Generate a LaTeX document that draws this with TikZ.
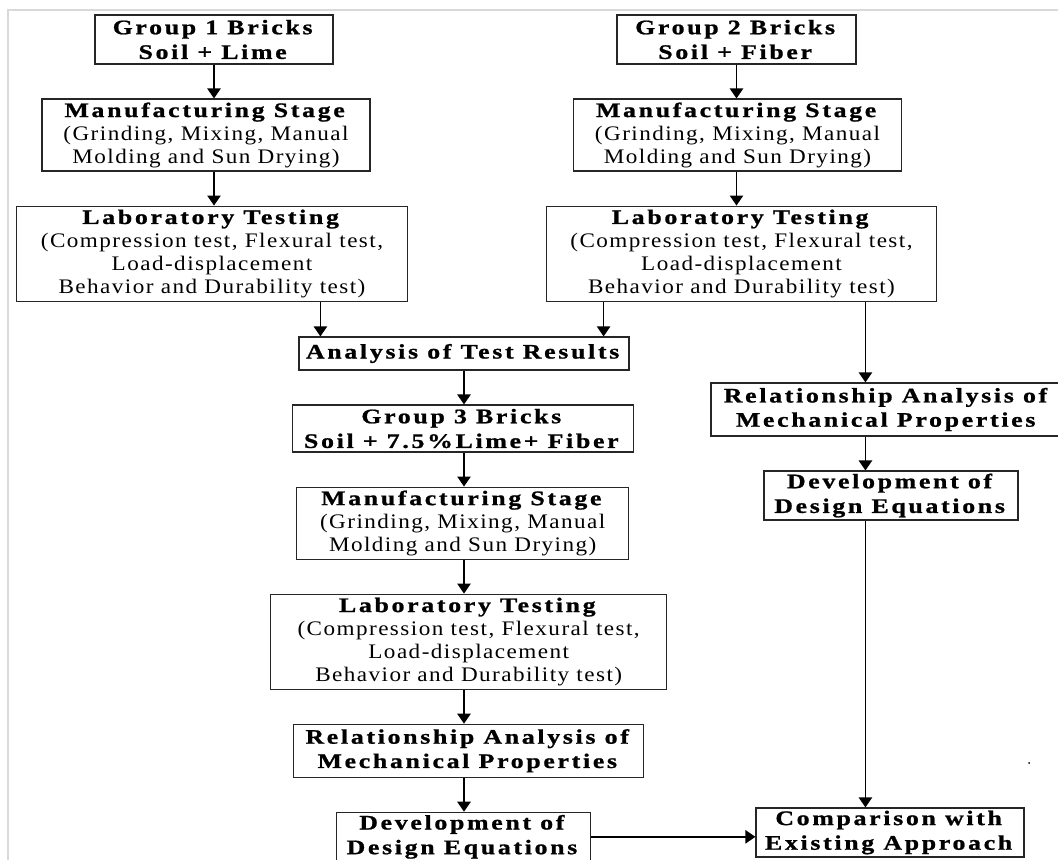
\documentclass[tikz,border=0pt]{standalone}
\usepackage{fontspec}
\setmainfont[FakeStretch=1.12,LetterSpace=7,BoldFeatures={FakeStretch=1.25,LetterSpace=13,FakeBold=1}]{Liberation Serif}
\usetikzlibrary{arrows.meta,positioning}
\tikzset{
  basebox/.style={
    draw=black!85,
    line width=0.9pt,
    align=center,
    inner sep=0pt,
    font=\fontsize{15.5}{17.3}\selectfont
  },
  groupbox/.style={
    basebox,
    minimum height=36.75pt,
    font=\fontsize{15.5}{18.5}\selectfont
  },
  stagebox/.style={
    basebox,
    minimum width=246pt,
    minimum height=54pt
  },
  testbox/.style={
    basebox,
    minimum width=293pt,
    minimum height=71.25pt
  },
  resultbox/.style={
    basebox,
    minimum height=39.75pt,
    font=\fontsize{15.5}{18.2}\selectfont
  },
  arrowline/.style={
    -{Triangle[length=7.5pt,width=10pt]},
    line width=1.1pt
  }
}

\begin{document}
\begin{tikzpicture}[x=0.75pt,y=-0.75pt,node distance=25.4pt]
  \useasboundingbox (0,0) rectangle (1058,860);
  \draw[black!15, line width=1.2pt] (8,860) -- (8,10) -- (1058,10);

  % left column
  \node[groupbox, minimum width=178.5pt] (g1) at (214,39.5) {\textbf{Group 1 Bricks}\\\textbf{Soil + Lime}};
  \node[stagebox, below=of g1, xshift=-6pt] (m1) {\textbf{Manufacturing Stage}\\(Grinding, Mixing, Manual\\Molding and Sun Drying)};
  \node[testbox, below=of m1, xshift=4.5pt] (lab1) {\textbf{Laboratory Testing}\\(Compression test, Flexural test,\\Load-displacement\\Behavior and Durability test)};

  % right column
  \node[groupbox, minimum width=179.25pt] (g2) at (736.5,39.5) {\textbf{Group 2 Bricks}\\\textbf{Soil + Fiber}};
  \node[stagebox, below=of g2, xshift=0.75pt] (m2) {\textbf{Manufacturing Stage}\\(Grinding, Mixing, Manual\\Molding and Sun Drying)};
  \node[testbox, below=of m2, xshift=3pt] (lab2) {\textbf{Laboratory Testing}\\(Compression test, Flexural test,\\Load-displacement\\Behavior and Durability test)};

  \node[resultbox, minimum width=264pt] (relR) at (887,409.5) {\textbf{Relationship Analysis of}\\\textbf{Mechanical Properties}};
  \node[groupbox, minimum width=190.5pt, below=of relR, xshift=3pt] (desR) {\textbf{Development of}\\\textbf{Design Equations}};
  \node[groupbox, minimum width=201pt] (comp) at (890,832.5) {\textbf{Comparison with}\\\textbf{Existing Approach}};

  % middle column
  \node[basebox, minimum width=247.5pt, minimum height=24.75pt] (anal) at (464,353.5) {\textbf{Analysis of Test Results}};
  \node[groupbox, minimum width=255.75pt, minimum height=35.25pt, below=of anal, xshift=-1pt] (g3) {\textbf{Group 3 Bricks}\\\textbf{Soil + 7.5\%Lime+ Fiber}};
  \node[stagebox, minimum width=249pt, below=of g3] (m3) {\textbf{Manufacturing Stage}\\(Grinding, Mixing, Manual\\Molding and Sun Drying)};
  \node[testbox, minimum width=297pt, below=of m3, xshift=4.5pt] (lab3) {\textbf{Laboratory Testing}\\(Compression test, Flexural test,\\Load-displacement\\Behavior and Durability test)};
  \node[resultbox, minimum width=262.5pt, below=of lab3] (rel3) {\textbf{Relationship Analysis of}\\\textbf{Mechanical Properties}};
  \node[groupbox, minimum width=190.5pt, below=of rel3, xshift=-4pt] (des3) {\textbf{Development of}\\\textbf{Design Equations}};

  \coordinate (in1) at ([xshift=16.5pt]anal.north west);
  \coordinate (in2) at ([xshift=-19.5pt]anal.north east);
  \coordinate (rdown) at ([xshift=-54pt]lab2.south east);

  \draw[arrowline] (g1.south) -- (g1.south |- m1.north);
  \draw[arrowline] (g1.south |- m1.south) -- (g1.south |- lab1.north);
  \draw[arrowline] (g2.south) -- (g2.south |- m2.north);
  \draw[arrowline] (g2.south |- m2.south) -- (g2.south |- lab2.north);

  \draw[arrowline] (lab1.south -| in1) -- (in1);
  \draw[arrowline] (lab2.south -| in2) -- (in2);

  \draw[arrowline] (anal.south) -- (anal.south |- g3.north);
  \draw[arrowline] (anal.south |- g3.south) -- (anal.south |- m3.north);
  \draw[arrowline] (anal.south |- m3.south) -- (anal.south |- lab3.north);
  \draw[arrowline] (anal.south |- lab3.south) -- (anal.south |- rel3.north);
  \draw[arrowline] (anal.south |- rel3.south) -- (anal.south |- des3.north);

  \draw[arrowline] (rdown) -- (rdown |- relR.north);
  \draw[arrowline] (rdown |- relR.south) -- (rdown |- desR.north);
  \draw[arrowline] (rdown |- desR.south) -- (rdown |- comp.north);
  \draw[arrowline] (des3.east) -- (des3.east -| comp.west);

  \fill (1029,763) circle (1);
\end{tikzpicture}
\end{document}
